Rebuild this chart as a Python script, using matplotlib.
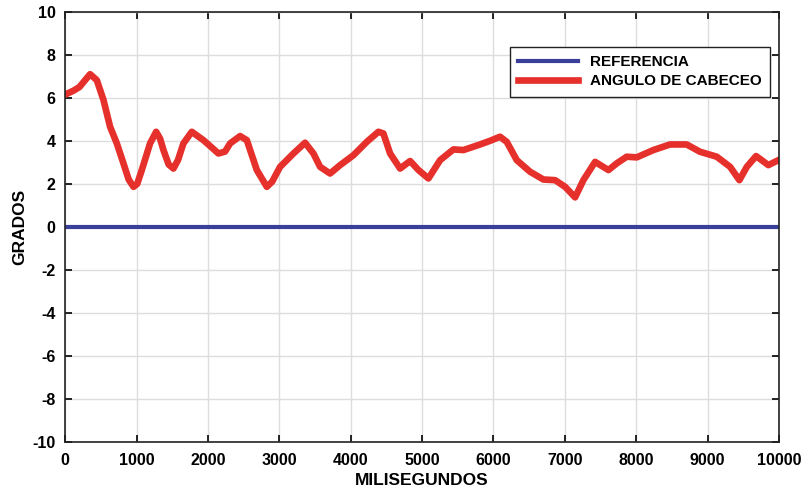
import matplotlib.pyplot as plt

plt.rcParams['font.family'] = ['Liberation Sans', 'DejaVu Sans']
plt.rcParams['font.weight'] = 'bold'
plt.rcParams['axes.unicode_minus'] = False

# datos
tiempo = [0, 116, 200, 350, 444, 537, 630, 724, 817, 890, 958, 1010, 1074, 1190,
          1275, 1330, 1377, 1450, 1517, 1580, 1657, 1774, 1937, 2050, 2147, 2240,
          2311, 2451, 2545, 2685, 2825, 2900, 3011, 3198, 3361, 3478, 3571, 3711,
          3852, 4038, 4225, 4388, 4458, 4552, 4692, 4832, 4949, 5089, 5252, 5439,
          5579, 5812, 5952, 6092, 6186, 6326, 6513, 6699, 6863, 7003, 7143, 7259,
          7423, 7610, 7726, 7866, 8006, 8239, 8473, 8706, 8893, 9127, 9314, 9444,
          9548, 9678, 9850, 9990]
cabeceo = [6.15, 6.33, 6.5, 7.1, 6.82, 5.9, 4.65, 3.88, 2.95, 2.2, 1.86, 2.0, 2.64, 3.88,
           4.42, 4.1, 3.57, 2.9, 2.71, 3.1, 3.88, 4.42, 4.03, 3.7, 3.41, 3.5,
           3.88, 4.22, 4.03, 2.64, 1.86, 2.1, 2.79, 3.41, 3.91, 3.41, 2.79, 2.48,
           2.87, 3.33, 3.95, 4.42, 4.34, 3.41, 2.71, 3.06, 2.64, 2.25, 3.1, 3.6,
           3.57, 3.83, 4.0, 4.19, 3.95, 3.1, 2.56, 2.2, 2.17, 1.86, 1.37, 2.17,
           3.02, 2.64, 2.95, 3.26, 3.23, 3.57, 3.83, 3.83, 3.49, 3.26, 2.79, 2.17,
           2.79, 3.29, 2.87, 3.1]
ref_t = [0, 10000]
referencia = [0, 0]

xticks = list(range(0, 10001, 1000))
yticks = list(range(-10, 11, 2))

fig = plt.figure(figsize=(8.04, 4.92), dpi=100)
ax = fig.add_axes([0.081, 0.102, 0.888, 0.874])

ax.plot(ref_t, referencia, color='#3a3f99', lw=3, label='REFERENCIA')
ax.plot(tiempo, cabeceo, color='#e6302c', lw=4.8, label='ANGULO DE CABECEO',
        solid_joinstyle='round')

ax.set_xlim(0, 10000)
ax.set_ylim(-10, 10)
ax.set_xticks(xticks)
ax.set_yticks(yticks)
ax.grid(True, color='#dddddd', lw=1)
ax.tick_params(direction='in', top=True, right=True, length=5, width=1.2,
               labelsize=11.5)
ax.tick_params(axis='x', pad=8)
ax.tick_params(axis='y', pad=7)
for s in ax.spines.values():
    s.set_linewidth(1.2)
    s.set_color('#222222')

ax.set_xlabel('MILISEGUNDOS', fontsize=12.5, fontweight='bold', labelpad=4)
ax.set_ylabel('GRADOS', fontsize=12.5, fontweight='bold', labelpad=3.5)

leg = ax.legend(loc='upper right', bbox_to_anchor=(0.9985, 0.937), fontsize=11,
                fancybox=False, edgecolor='#222222', handlelength=3.9,
                borderpad=0.55, labelspacing=0.35, framealpha=1)
leg.get_frame().set_linewidth(1.0)

fig.savefig('out.png', dpi=100)
